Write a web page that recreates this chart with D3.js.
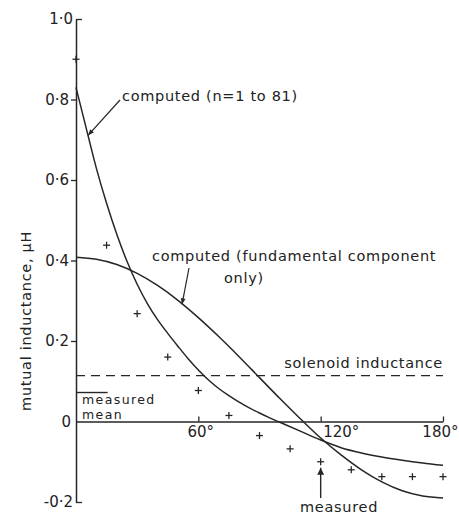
<!DOCTYPE html>
<html><head><meta charset="utf-8">
<script src="https://cdn.jsdelivr.net/npm/d3@7"></script>
<style>
html,body{margin:0;padding:0;background:#fff;}
svg{display:block;}
text{font-family:"DejaVu Sans",sans-serif;fill:#222;}
</style></head><body>
<svg id="c" width="459" height="515"></svg>
<script>
// computed (n = 1 to 81)
const n81Angles = [0,5,10,15,20,25,30,35,40,45,50,55,60,65,70,75,80,85,90,95,100,110,120,130,140,150,160,170,180];
const n81Values = [0.830,0.729,0.629,0.542,0.465,0.398,0.341,0.293,0.253,0.219,0.187,0.156,0.128,0.103,0.082,0.064,0.048,0.034,0.021,0.009,-0.002,-0.024,-0.046,-0.065,-0.078,-0.088,-0.096,-0.103,-0.109];
// computed (fundamental component only)
const fundAngles = [0,10,20,30,40,50,60,70,80,90,100,110,120,130,140,150,160,170,180];
const fundValues = [0.408,0.403,0.390,0.368,0.338,0.301,0.258,0.211,0.161,0.109,0.057,0.007,-0.041,-0.083,-0.120,-0.150,-0.172,-0.185,-0.190];
// measured
const measAngles = [0,15,30,45,60,75,90,105,120,135,150,165,180];
const measValues = [0.90,0.438,0.268,0.160,0.077,0.015,-0.035,-0.068,-0.100,-0.120,-0.137,-0.137,-0.137];
// reference levels
const solenoidInductance = 0.114;
const measuredMean = 0.072;
// axes
const yTickValues = [-0.2,0,0.2,0.4,0.6,0.8,1.0];
const yTickLabels = ["-0·2","0","0·2","0·4","0·6","0·8","1·0"];
const xTickValues = [60,120,180];
const xTickLabels = ["60°","120°","180°"];
const yTitle = "mutual inductance, μH";

const ink = "#262626";
const svg = d3.select("#c");
svg.append("rect").attr("width",459).attr("height",515).attr("fill","#fff");

const x = d3.scaleLinear().domain([0,180]).range([76,443]);
const y = d3.scaleLinear().domain([-0.2,1.0]).range([502,19]);

const defs = svg.append("defs");
defs.append("marker")
  .attr("id","ah").attr("viewBox","0 0 10 10").attr("refX",10).attr("refY",5)
  .attr("markerWidth",9).attr("markerHeight",6).attr("markerUnits","userSpaceOnUse")
  .attr("orient","auto")
  .append("path").attr("d","M0,1 L10,5 L0,9 Z").attr("fill",ink);
defs.append("marker")
  .attr("id","ah2").attr("viewBox","0 0 10 10").attr("refX",10).attr("refY",5)
  .attr("markerWidth",12).attr("markerHeight",7).attr("markerUnits","userSpaceOnUse")
  .attr("orient","auto")
  .append("path").attr("d","M0,0 L10,5 L0,10 Z").attr("fill",ink);

// Y axis
const yAxis = d3.axisLeft(y).tickValues(yTickValues)
  .tickFormat((d,i)=>yTickLabels[i]).tickSize(5).tickSizeOuter(0).tickPadding(2);
const gy = svg.append("g").attr("transform",`translate(${x(0)},0)`).call(yAxis);
gy.select(".domain").attr("stroke",ink).attr("stroke-width",1.5);
gy.selectAll(".tick line").attr("stroke",ink).attr("stroke-width",1.3)
  .attr("x2",d=> (d===1.0||d===-0.2) ? 6 : (d===0 ? 0 : -5));
gy.selectAll(".tick text").attr("font-size",15).attr("fill","#222")
  .attr("font-family","DejaVu Sans")
  .attr("x",d=> (d===1.0||d===-0.2) ? -3 : (d===0 ? -5 : -7));

// X axis at y = 0
const xAxis = d3.axisBottom(x).tickValues(xTickValues)
  .tickFormat((d,i)=>xTickLabels[i]).tickSize(-5).tickSizeOuter(0).tickPadding(5);
const gx = svg.append("g").attr("transform",`translate(0,${y(0)})`).call(xAxis);
gx.select(".domain").attr("stroke",ink).attr("stroke-width",1.5);
gx.selectAll(".tick line").attr("stroke",ink).attr("stroke-width",1.3);
gx.selectAll(".tick text").attr("font-size",15).attr("fill","#222")
  .attr("font-family","DejaVu Sans")
  .attr("text-anchor",d=> d===120 ? "start" : (d===180 ? "end" : "middle"))
  .attr("dx",d=> d===120 ? 2 : (d===180 ? 15 : 2));

// Y title
svg.append("text").attr("transform",`translate(31,${y(0.25)}) rotate(-90)`)
  .attr("text-anchor","middle").attr("font-size",14.5).attr("letter-spacing",0.7)
  .text(yTitle);

// solenoid dashed line
svg.append("line").attr("x1",x(0)).attr("x2",x(180))
  .attr("y1",y(solenoidInductance)).attr("y2",y(solenoidInductance))
  .attr("stroke",ink).attr("stroke-width",1.4).attr("stroke-dasharray","9,6");
svg.append("text").attr("x",x(180)).attr("y",y(solenoidInductance)-8)
  .attr("text-anchor","end").attr("font-size",14.5).attr("letter-spacing",0.7)
  .text("solenoid inductance");

// measured mean
svg.append("line").attr("x1",x(0)).attr("x2",x(15.5))
  .attr("y1",y(measuredMean)).attr("y2",y(measuredMean))
  .attr("stroke",ink).attr("stroke-width",1.4);
const mm = svg.append("text").attr("font-size",12.5).attr("letter-spacing",1.4);
mm.append("tspan").attr("x",x(0)+6).attr("y",y(measuredMean)+11).text("measured");
mm.append("tspan").attr("x",x(0)+6).attr("y",y(measuredMean)+26).text("mean");

// curves
const line = d3.line().x(d=>x(d[0])).y(d=>y(d[1])).curve(d3.curveMonotoneX);
svg.append("path").datum(n81Angles.map((a,i)=>[a,n81Values[i]]))
  .attr("d",line).attr("fill","none").attr("stroke",ink).attr("stroke-width",1.5);
svg.append("path").datum(fundAngles.map((a,i)=>[a,fundValues[i]]))
  .attr("d",line).attr("fill","none").attr("stroke",ink).attr("stroke-width",1.5);

// measured crosses
const s = 3.5;
const cross = svg.append("g").attr("stroke",ink).attr("stroke-width",1.3);
measAngles.forEach((a,i)=>{
  const cx = x(a), cy = y(measValues[i]);
  cross.append("line").attr("x1",cx-s).attr("x2",cx+s).attr("y1",cy).attr("y2",cy);
  cross.append("line").attr("x1",cx).attr("x2",cx).attr("y1",cy-s).attr("y2",cy+s);
});

// annotations
svg.append("text").attr("x",122).attr("y",101).attr("font-size",14.5).attr("letter-spacing",0.7)
  .text("computed (n=1 to 81)");
svg.append("line").attr("x1",120).attr("y1",100).attr("x2",x(5.9)).attr("y2",y(0.711))
  .attr("stroke",ink).attr("stroke-width",1.2).attr("marker-end","url(#ah)");

svg.append("text").attr("x",152).attr("y",261).attr("font-size",14.5).attr("letter-spacing",0.7)
  .text("computed (fundamental component");
svg.append("text").attr("x",224).attr("y",283).attr("font-size",14.5).attr("letter-spacing",0.7)
  .text("only)");
svg.append("line").attr("x1",189).attr("y1",268).attr("x2",x(52)).attr("y2",y(0.291))
  .attr("stroke",ink).attr("stroke-width",1.2).attr("marker-end","url(#ah)");

svg.append("line").attr("x1",x(120)).attr("x2",x(120)).attr("y1",498).attr("y2",y(-0.100)+6)
  .attr("stroke",ink).attr("stroke-width",1.4).attr("marker-end","url(#ah2)");
svg.append("text").attr("x",300).attr("y",512).attr("font-size",14.5).attr("letter-spacing",0.7)
  .text("measured");
</script>
</body></html>
